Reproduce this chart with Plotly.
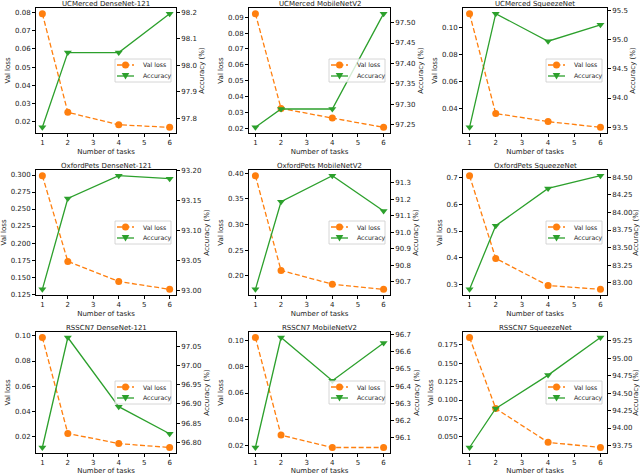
import plotly.graph_objects as go

tasks = [1, 2, 4, 6]

titles = [
    "UCMerced DenseNet-121", "UCMerced MobileNetV2", "UCMerced SqueezeNet",
    "OxfordPets DenseNet-121", "OxfordPets MobileNetV2", "OxfordPets SqueezeNet",
    "RSSCN7 DenseNet-121", "RSSCN7 MobileNetV2", "RSSCN7 SqueezeNet",
]

# validation loss per panel
loss_ucm_dense = [0.0795, 0.0250, 0.0181, 0.0167]
loss_ucm_mobile = [0.0922, 0.0326, 0.0265, 0.0207]
loss_ucm_squeeze = [0.1102, 0.0366, 0.0306, 0.0264]
loss_pets_dense = [0.299, 0.173, 0.1435, 0.132]
loss_pets_mobile = [0.3953, 0.2107, 0.184, 0.174]
loss_pets_squeeze = [0.706, 0.398, 0.297, 0.283]
loss_rss_dense = [0.0987, 0.0224, 0.0143, 0.0112]
loss_rss_mobile = [0.1026, 0.0277, 0.0182, 0.0182]
loss_rss_squeeze = [0.185, 0.0885, 0.0425, 0.0355]

# accuracy (%) per panel
acc_ucm_dense = [97.766, 98.048, 98.048, 98.195]
acc_ucm_mobile = [97.243, 97.288, 97.288, 97.522]
acc_ucm_squeeze = [93.50, 95.44, 94.97, 95.25]
acc_pets_dense = [93.002, 93.153, 93.191, 93.186]
acc_pets_mobile = [90.653, 91.184, 91.342, 91.128]
acc_pets_squeeze = [82.91, 83.81, 84.34, 84.52]
acc_rss_dense = [96.786, 97.074, 96.893, 96.822]
acc_rss_mobile = [96.042, 96.683, 96.431, 96.651]
acc_rss_squeeze = [93.72, 94.28, 94.76, 95.30]

losses = [loss_ucm_dense, loss_ucm_mobile, loss_ucm_squeeze,
          loss_pets_dense, loss_pets_mobile, loss_pets_squeeze,
          loss_rss_dense, loss_rss_mobile, loss_rss_squeeze]
accs = [acc_ucm_dense, acc_ucm_mobile, acc_ucm_squeeze,
        acc_pets_dense, acc_pets_mobile, acc_pets_squeeze,
        acc_rss_dense, acc_rss_mobile, acc_rss_squeeze]

# tick step and format for left / right axes
left_ticks = [(0.01, ".2f"), (0.01, ".2f"), (0.02, ".2f"),
              (0.025, ".3f"), (0.05, ".2f"), (0.1, ".1f"),
              (0.02, ".2f"), (0.02, ".2f"), (0.025, ".3f")]
right_ticks = [(0.1, ".1f"), (0.05, ".2f"), (0.5, ".1f"),
               (0.05, ".2f"), (0.1, ".1f"), (0.25, ".2f"),
               (0.05, ".2f"), (0.1, ".1f"), (0.25, ".2f")]

W, H = 640, 475
col_px = [(36, 176), (249, 390), (463, 607)]
row_px = [(8, 133), (170, 295), (332, 453)]

ORANGE = "#ff7f0e"
GREEN = "#2ca02c"
FONT = "DejaVu Sans"
TXT = "#1a1a1a"
DASH = "5px,2.5px"


def pad_range(vals, frac=0.05):
    lo, hi = min(vals), max(vals)
    p = (hi - lo) * frac
    return [lo - p, hi + p]


def px(x):
    return x / W


def py(y):
    return 1 - y / H


fig = go.Figure()
layout = dict(
    width=W, height=H,
    margin=dict(l=0, r=0, t=0, b=0),
    paper_bgcolor="white", plot_bgcolor="white",
    font=dict(family=FONT, size=7, color=TXT),
    annotations=[], shapes=[], showlegend=False,
)

axis_common = dict(showgrid=False, zeroline=False, showline=True, linecolor="black",
                   linewidth=0.8, ticks="outside", ticklen=3, tickwidth=0.8,
                   tickcolor="black", automargin=False,
                   tickfont=dict(size=7, family=FONT, color=TXT))

for i in range(9):
    r, c = divmod(i, 3)
    x0, x1 = px(col_px[c][0]), px(col_px[c][1])
    y0, y1 = py(row_px[r][1]), py(row_px[r][0])
    xa = f"x{i + 1}" if i else "x"
    ya_l = f"y{2 * i + 1}" if i else "y"
    ya_r = f"y{2 * i + 2}"

    fig.add_trace(go.Scatter(
        x=tasks, y=losses[i], name="Val loss", mode="lines+markers",
        line=dict(color=ORANGE, width=1.3, dash=DASH),
        marker=dict(symbol="circle", size=7, color=ORANGE),
        xaxis=xa, yaxis=ya_l))
    fig.add_trace(go.Scatter(
        x=tasks, y=accs[i], name="Accuracy", mode="lines+markers",
        line=dict(color=GREEN, width=1.3),
        marker=dict(symbol="triangle-down", size=7, color=GREEN),
        xaxis=xa, yaxis=ya_r))

    xkey = "xaxis" + (str(i + 1) if i else "")
    ylkey = "yaxis" + (str(2 * i + 1) if i else "")
    yrkey = "yaxis" + str(2 * i + 2)

    layout[xkey] = dict(axis_common, domain=[x0, x1], anchor=ya_l,
                        range=[0.75, 6.25], dtick=1, tick0=0, mirror=True,
                        title=dict(text="Number of tasks", font=dict(size=7), standoff=2))
    layout[ylkey] = dict(axis_common, domain=[y0, y1], anchor=xa,
                         range=pad_range(losses[i]), dtick=left_ticks[i][0], tick0=0,
                         tickformat=left_ticks[i][1],
                         title=dict(text="Val loss", font=dict(size=7), standoff=3))
    layout[yrkey] = dict(axis_common, domain=[y0, y1], anchor=xa, overlaying=ya_l,
                         side="right", range=pad_range(accs[i]),
                         dtick=right_ticks[i][0], tick0=0, tickformat=right_ticks[i][1],
                         title=dict(text="Accuracy (%)", font=dict(size=7), standoff=3))
    layout["annotations"].append(dict(
        text=titles[i], xref="paper", yref="paper", x=(x0 + x1) / 2,
        y=py(row_px[r][0] - 4), xanchor="center", yanchor="middle", showarrow=False,
        font=dict(size=7, family=FONT, color=TXT)))

    # legend box drawn in the centre-right of each panel (matplotlib style)
    lr = col_px[c][1] - 5
    ll = lr - 56
    lc = (row_px[r][0] + row_px[r][1]) / 2
    lt, lb = lc - 11.5, lc + 11.5
    layout["shapes"].append(dict(
        type="rect", xref="paper", yref="paper", x0=px(ll), x1=px(lr),
        y0=py(lb), y1=py(lt), line=dict(color="#cccccc", width=0.8),
        fillcolor="rgba(255,255,255,0.8)", layer="above"))
    for k, (name, col, dash) in enumerate([("Val loss", ORANGE, DASH),
                                           ("Accuracy", GREEN, "solid")]):
        yy = lt + 6 + 11 * k
        layout["shapes"].append(dict(
            type="line", xref="paper", yref="paper", x0=px(ll + 2), x1=px(ll + 19),
            y0=py(yy), y1=py(yy), line=dict(color=col, width=1.3, dash=dash),
            layer="above"))
        mx = ll + 10.5
        if k == 0:
            layout["shapes"].append(dict(
                type="circle", xref="paper", yref="paper",
                x0=px(mx - 3.5), x1=px(mx + 3.5), y0=py(yy + 3.5), y1=py(yy - 3.5),
                fillcolor=col, line=dict(width=0), layer="above"))
        else:
            path = (f"M {px(mx - 3.8)} {py(yy - 3)} L {px(mx + 3.8)} {py(yy - 3)} "
                    f"L {px(mx)} {py(yy + 3.6)} Z")
            layout["shapes"].append(dict(
                type="path", xref="paper", yref="paper", path=path,
                fillcolor=col, line=dict(width=0), layer="above"))
        layout["annotations"].append(dict(
            text=name, xref="paper", yref="paper", x=px(ll + 26), y=py(yy),
            xanchor="left", yanchor="middle", showarrow=False,
            font=dict(size=6.2, family=FONT, color=TXT)))

fig.update_layout(**layout)
fig.write_html("out.html", config={"displayModeBar": False},
               post_script="document.body.style.margin='0';")
